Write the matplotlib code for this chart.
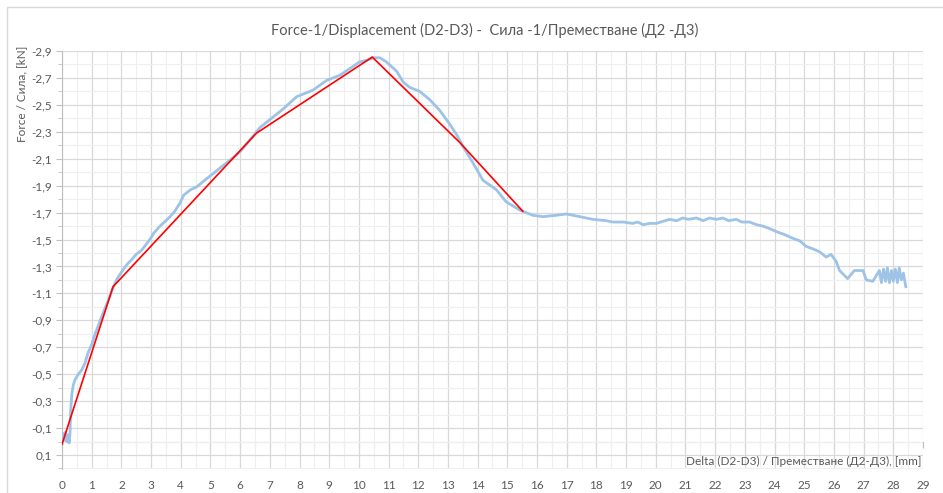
import matplotlib

matplotlib.use("Agg")
import matplotlib.pyplot as plt
import numpy as np
from matplotlib.patches import Rectangle
from matplotlib.ticker import FuncFormatter, MultipleLocator

plt.rcParams["font.family"] = ["Lato", "DejaVu Sans"]

TITLE = "Force-1/Displacement (D2-D3) -  Сила -1/Преместване (Д2 -Д3)"
X_LABEL = "Delta (D2-D3) / Преместване (Д2-Д3), [mm]"
Y_LABEL = "Force / Сила, [kN]"

delta_mm = [
    0.00, 0.04, 0.08, 0.12, 0.16, 0.20, 0.24, 0.27, 0.29, 0.33,
    0.38, 0.44, 0.55, 0.66, 0.77, 0.88, 1.00, 1.10, 1.22, 1.34, 1.45,
    1.56, 1.73, 1.86, 2.01, 2.17, 2.34, 2.50, 2.68, 2.82, 2.96,
    3.10, 3.30, 3.45, 3.64, 3.80, 3.97, 4.10, 4.33, 4.53, 4.75,
    4.98, 5.32, 5.66, 5.99, 6.33, 6.66, 7.00, 7.45, 7.90, 8.35,
    8.46, 8.90, 9.36, 9.70, 10.03, 10.25, 10.48, 10.70, 10.92, 11.27,
    11.49, 11.71, 12.05, 12.38, 12.72, 13.05, 13.29, 13.51, 13.84, 14.18,
    14.63, 14.96, 15.41, 15.86, 16.20, 16.65, 16.99, 17.44, 17.88, 18.33,
    18.55, 18.90, 19.22, 19.40, 19.57, 19.80, 20.02, 20.46, 20.70, 20.91,
    21.10, 21.37, 21.60, 21.81, 22.05, 22.26, 22.45, 22.71, 22.90, 23.16,
    23.40, 23.60, 23.85, 24.05, 24.30, 24.61, 24.85, 25.06, 25.30, 25.51,
    25.74, 25.90, 26.07, 26.19, 26.46, 26.69, 26.98, 27.09, 27.31, 27.53,
    27.60, 27.67, 27.74, 27.80, 27.87, 27.94, 28.00, 28.07, 28.14, 28.20,
    28.27, 28.34, 28.42,
]
force_kn = [
    0.02, -0.06, -0.01, -0.07, 0.00, -0.05, 0.01, -0.06, -0.22, -0.35,
    -0.42, -0.46, -0.50, -0.53, -0.58, -0.66, -0.72, -0.79, -0.86, -0.93, -0.99,
    -1.05, -1.15, -1.21, -1.26, -1.31, -1.35, -1.39, -1.42, -1.46, -1.50,
    -1.55, -1.60, -1.63, -1.67, -1.71, -1.77, -1.83, -1.87, -1.89, -1.93,
    -1.97, -2.03, -2.09, -2.15, -2.24, -2.33, -2.39, -2.47, -2.56, -2.60,
    -2.61, -2.68, -2.72, -2.77, -2.82, -2.83, -2.85, -2.85, -2.82, -2.75,
    -2.67, -2.63, -2.60, -2.54, -2.46, -2.36, -2.28, -2.19, -2.07, -1.94,
    -1.87, -1.78, -1.72, -1.68, -1.67, -1.68, -1.69, -1.67, -1.65, -1.64,
    -1.63, -1.63, -1.62, -1.63, -1.61, -1.62, -1.62, -1.65, -1.64, -1.66,
    -1.65, -1.66, -1.64, -1.66, -1.65, -1.66, -1.64, -1.65, -1.63, -1.63,
    -1.61, -1.60, -1.58, -1.56, -1.54, -1.51, -1.49, -1.45, -1.43, -1.41,
    -1.37, -1.39, -1.34, -1.27, -1.21, -1.27, -1.27, -1.20, -1.19, -1.27,
    -1.18, -1.28, -1.19, -1.29, -1.18, -1.27, -1.19, -1.28, -1.18, -1.29,
    -1.20, -1.25, -1.15,
]

# piecewise linear approximation (red)
approx_x = [0.00, 1.72, 6.55, 10.45, 13.40, 15.52]
approx_y = [0.02, -1.15, -2.29, -2.855, -2.22, -1.71]

fig = plt.figure(figsize=(9.43, 4.93), dpi=100)
W, H = 943, 493
ax = fig.add_axes([62 / W, 1 - 468.5 / H, (923 - 62) / W, (468.5 - 51) / H])

fig.add_artist(Rectangle((7 / W, -0.1), 1.2, 1.1 - 7 / H, transform=fig.transFigure,
                         fill=False, edgecolor="#D9D9D9", linewidth=1.0))

ax.plot(delta_mm, force_kn, color="#9DC3E6", linewidth=2.0, zorder=3)
ax.plot(approx_x, approx_y, color="#FF0000", linewidth=1.2, zorder=4)

ax.set_xlim(0, 29)
ax.set_ylim(0.2, -2.9)

grey = "#595959"
ax.xaxis.set_major_locator(MultipleLocator(1))
ax.xaxis.set_minor_locator(MultipleLocator(0.5))
ax.set_yticks(np.round(np.arange(0.1, -2.95, -0.2), 1))
ax.yaxis.set_minor_locator(MultipleLocator(0.1))
ax.yaxis.set_major_formatter(FuncFormatter(lambda v, p: f"{v:.1f}".replace(".", ",")))

ax.grid(which="major", color="#D9D9D9", linewidth=0.9)
ax.grid(which="minor", color="#EFEFEF", linewidth=0.8)
ax.set_axisbelow(True)

for side in ("top", "right", "bottom"):
    ax.spines[side].set_visible(False)
ax.spines["left"].set_color("#BFBFBF")

ax.tick_params(axis="x", which="both", length=0, labelsize=8.5, colors=grey, pad=8)
ax.tick_params(axis="y", which="both", length=4, color="#BFBFBF", labelsize=8.5, colors=grey)
ax.tick_params(axis="y", which="minor", length=3)
for lab in ax.get_yticklabels():
    lab.set_color(grey)

# horizontal axis line at zero force with its tick marks
zero_ax = ax.secondary_xaxis(0.2 / 3.1)
zero_ax.xaxis.set_major_locator(MultipleLocator(0.5))
zero_ax.tick_params(length=4, color="#BFBFBF", labelbottom=False)
zero_ax.spines["bottom"].set_color("#BFBFBF")

fig.text(485 / W, 1 - 30 / H, TITLE, ha="center", va="center", fontsize=10.5, color=grey)
fig.text(922 / W, 1 - 461 / H, X_LABEL, ha="right", va="center", fontsize=8.5, color=grey)
fig.text(22 / W, 1 - 46 / H, Y_LABEL, ha="center", va="top", rotation=90, fontsize=8.5, color=grey)

fig.savefig("out.png", dpi=100)
